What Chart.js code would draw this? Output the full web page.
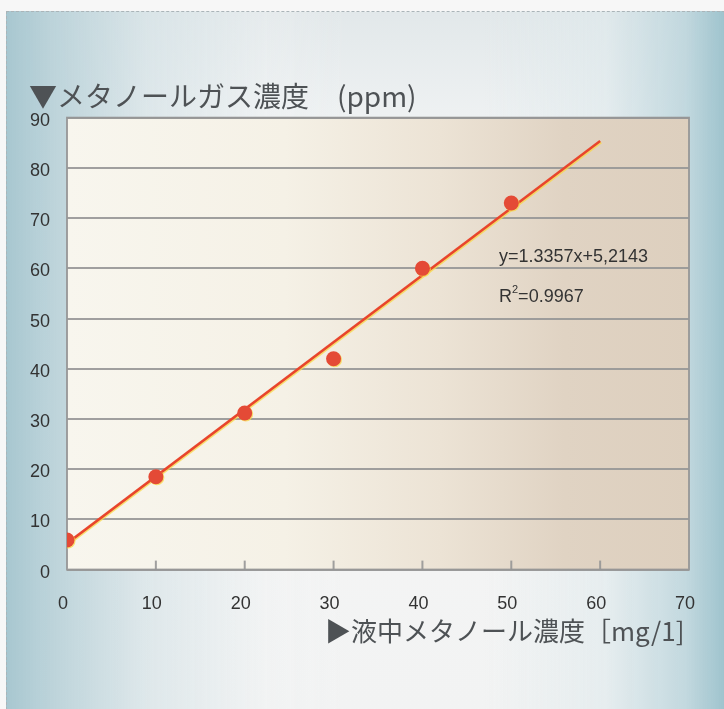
<!DOCTYPE html>
<html lang="ja">
<head>
<meta charset="utf-8">
<title>メタノールガス濃度</title>
<script src="https://cdn.jsdelivr.net/npm/chart.js@4.4.1/dist/chart.umd.min.js"></script>
<style>
  html, body { margin: 0; padding: 0; width: 724px; height: 709px; overflow: hidden; background: #f7f7f7; }
  #frame {
    position: absolute; left: 6px; top: 11px; width: 718px; height: 698px;
    border-top: 1px dashed #aab4b8; border-left: 1px dashed #aab4b8;
    background:
      linear-gradient(to right, rgba(168,199,208,1) 0px, rgba(186,210,217,0.95) 45px, rgba(214,227,231,0.7) 140px, rgba(240,243,244,0.3) 260px, rgba(255,255,255,0) 340px),
      linear-gradient(to left, rgba(158,195,205,1) 0px, rgba(190,214,221,0.9) 40px, rgba(222,233,236,0.6) 120px, rgba(255,255,255,0) 240px),
      linear-gradient(to bottom, #e2e8ea 0%, #eef1f2 15%, #f5f5f5 55%, #f2f3f3 100%);
  }
  #chart { position: absolute; left: 0; top: 0; }
</style>
</head>
<body>
<div id="frame"></div>
<canvas id="chart" width="724" height="709"></canvas>
<script>
// Liquid methanol concentration (mg/l) and measured methanol gas concentration (ppm)
const liquidMgL = [0, 10, 20, 30, 40, 50];
const gasPpm = [5.9, 18.5, 31.2, 42.0, 60.0, 73.0];

// Linear regression reported on the chart
const slope = 1.3357;
const intercept = 5.2143;
const trendRange = [0, 60];
const equationText = 'y=1.3357x+5,2143';
const r2Value = '0.9967';

// Axis ranges and tick labels
const xTicks = [0, 10, 20, 30, 40, 50, 60, 70];
const yTicks = [0, 10, 20, 30, 40, 50, 60, 70, 80, 90];

const yTitle = '▼メタノールガス濃度　(ppm)';
const xTitle = '▶液中メタノール濃度［mg/1]';

const points = liquidMgL.map((x, i) => ({ x, y: gasPpm[i] }));
const trend = trendRange.map(x => ({ x, y: slope * x + intercept }));

const TICK_FONT = '"Liberation Sans Narrow", "Liberation Sans", Arial, sans-serif';
const CJK_FONT = '"Noto Sans CJK JP", "Noto Sans", sans-serif';
const GRID = 'rgba(150,150,150,0.9)';

const decor = {
  id: 'decor',
  beforeDatasetsDraw(chart) {
    const { ctx, chartArea: a } = chart;
    const xs = chart.scales.x;
    ctx.save();
    // plot frame
    ctx.strokeStyle = GRID;
    ctx.lineWidth = 2;
    ctx.strokeRect(a.left, a.top, a.right - a.left, a.bottom - a.top);
    // inward tick marks on the x axis
    xTicks.slice(1, -1).forEach(v => {
      const px = xs.getPixelForValue(v);
      ctx.beginPath();
      ctx.moveTo(px, a.bottom);
      ctx.lineTo(px, a.bottom - 9);
      ctx.stroke();
    });
    ctx.restore();
  },
  beforeDraw(chart) {
    const { ctx, chartArea: a } = chart;
    ctx.save();
    const g = ctx.createLinearGradient(a.left, 0, a.right, 0);
    g.addColorStop(0, '#f8f6ee');
    g.addColorStop(0.35, '#f5f1e6');
    g.addColorStop(0.6, '#ece3d5');
    g.addColorStop(0.8, '#e0d3c3');
    g.addColorStop(1, '#ddcfbe');
    ctx.fillStyle = g;
    ctx.fillRect(a.left, a.top, a.right - a.left, a.bottom - a.top);
    ctx.restore();
  },
  beforeDatasetDraw(chart, args) {
    const ctx = chart.ctx;
    ctx.save();
    ctx.shadowColor = 'rgba(248,215,70,0.75)';
    ctx.shadowBlur = 0;
    ctx.shadowOffsetX = 1;
    ctx.shadowOffsetY = args.index === 1 ? 1.2 : 1;
  },
  afterDatasetDraw(chart) {
    chart.ctx.restore();
  },
  afterDraw(chart) {
    const ctx = chart.ctx;
    ctx.save();
    ctx.textBaseline = 'alphabetic';
    ctx.fillStyle = '#4e5255';
    ctx.font = '28px ' + CJK_FONT;
    ctx.fillText(yTitle, 29, 107);
    ctx.font = '26px ' + CJK_FONT;
    ctx.fillText(xTitle, 325, 641);

    ctx.fillStyle = '#333';
    ctx.font = '18px ' + TICK_FONT;
    ctx.fillText(equationText, 499, 262);
    ctx.fillText('R', 499, 302);
    const rw = ctx.measureText('R').width;
    ctx.font = '11px ' + TICK_FONT;
    ctx.fillText('2', 499 + rw, 293);
    const sw = ctx.measureText('2').width;
    ctx.font = '18px ' + TICK_FONT;
    ctx.fillText('=' + r2Value, 499 + rw + sw, 302);
    ctx.restore();
  }
};

new Chart(document.getElementById('chart'), {
  data: {
    datasets: [
      {
        type: 'scatter',
        data: points,
        order: 0,
        backgroundColor: '#e44a36',
        borderWidth: 0,
        pointRadius: 7.5,
        pointHoverRadius: 7.5
      },
      {
        type: 'line',
        data: trend,
        order: 1,
        borderColor: '#e8452c',
        borderWidth: 2.5,
        pointRadius: 0,
        fill: false,
        tension: 0
      }
    ]
  },
  options: {
    responsive: false,
    animation: false,
    layout: { padding: { left: 0, top: 117.7, right: 35, bottom: 0 } },
    plugins: { legend: { display: false }, tooltip: { enabled: false } },
    scales: {
      x: {
        type: 'linear',
        min: 0, max: 70,
        afterBuildTicks: s => { s.ticks = xTicks.map(v => ({ value: v })); },
        afterFit: s => { s.height = 139.4; },
        grid: { display: false },
        border: { display: false },
        ticks: { padding: 16, labelOffset: -4, color: '#333', font: { family: TICK_FONT, size: 18 } }
      },
      y: {
        type: 'linear',
        min: 0, max: 90,
        afterBuildTicks: s => { s.ticks = yTicks.map(v => ({ value: v })); },
        afterFit: s => { s.width = 67; },
        grid: { color: GRID, lineWidth: 2, drawTicks: false },
        border: { display: false },
        ticks: { padding: 17, labelOffset: 3, color: '#333', font: { family: TICK_FONT, size: 18 } }
      }
    }
  },
  plugins: [decor]
});
</script>
</body>
</html>
